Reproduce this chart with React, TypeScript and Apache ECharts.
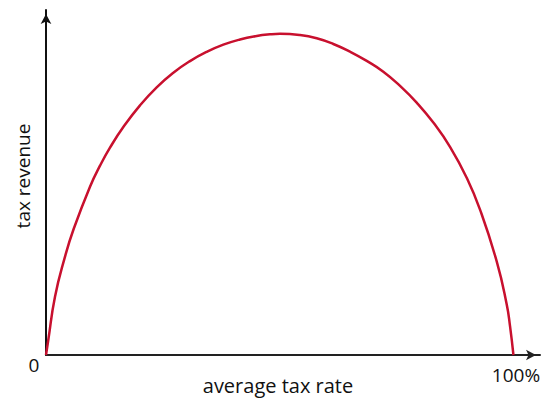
import React, { useEffect, useRef } from "react";
import * as echarts from "echarts";

// Laffer curve: tax rate (%) vs tax revenue (relative, peak = 100)
const taxRate = [0, 0.49, 1.93, 4.08, 5.86, 9.44, 11.59, 13.73, 16.59, 20.17, 23.75, 27.32, 30.9, 34.48, 38.05, 41.63, 45.21, 48.07, 50.21, 54.5, 58.09, 61.65, 65.24, 68.82, 72.38, 75.97, 79.54, 83.11, 86.69, 90.27, 93.13, 96.71, 98.86, 99.57, 100.3];
const taxRevenue = [0, 4.67, 18.17, 30.63, 38.95, 52.45, 58.99, 64.6, 71.02, 77.78, 83.39, 87.94, 91.58, 94.45, 96.69, 98.31, 99.4, 99.93, 100.1, 99.71, 98.69, 96.91, 94.51, 91.64, 88.28, 83.85, 78.65, 72.42, 64.88, 55.25, 45.31, 29.17, 15.77, 9.0, 0];
const xTickLabels = ["0", "100%"];
const xAxisTitle = "average tax rate";
const yAxisTitle = "tax revenue";

export default function App() {
  const ref = useRef<HTMLDivElement>(null);
  useEffect(() => {
    if (!ref.current) return;
    const chart = echarts.init(ref.current, null, { renderer: "svg" });
    const font = "'Open Sans', 'DejaVu Sans', sans-serif";
    chart.setOption({
      animation: false,
      backgroundColor: "#fff",
      grid: { left: 46, right: 1, top: 10, bottom: 43 },
      xAxis: {
        type: "value",
        min: 0,
        max: 106,
        axisLine: {
          show: true,
          lineStyle: { color: "#222", width: 2 },
          symbol: ["none", "arrow"],
          symbolSize: [8, 10],
          symbolOffset: [0, -4],
        },
        axisTick: { show: false },
        axisLabel: { show: false },
        splitLine: { show: false },
      },
      yAxis: {
        type: "value",
        min: 0,
        max: 107.5,
        axisLine: {
          show: true,
          lineStyle: { color: "#111", width: 2 },
          symbol: ["none", "arrow"],
          symbolSize: [8, 10],
          symbolOffset: [0, -4],
        },
        axisTick: { show: false },
        axisLabel: { show: false },
        splitLine: { show: false },
      },
      series: [
        {
          type: "line",
          data: taxRate.map((x, i) => [x, taxRevenue[i]]),
          smooth: 0.5,
          showSymbol: false,
          lineStyle: { color: "#c8102e", width: 2.5 },
          z: 1,
        },
      ],
      graphic: [
        {
          type: "text",
          x: 34,
          y: 365,
          style: { text: xTickLabels[0], font: `19px ${font}`, fill: "#111", align: "center", verticalAlign: "middle" },
        },
        {
          type: "text",
          x: 516,
          y: 374.5,
          style: { text: xTickLabels[1], font: `19px ${font}`, fill: "#111", align: "center", verticalAlign: "middle" },
        },
        {
          type: "text",
          x: 278,
          y: 385,
          style: { text: xAxisTitle, font: `20px ${font}`, fill: "#111", align: "center", verticalAlign: "middle" },
        },
        {
          type: "text",
          x: 23,
          y: 176,
          rotation: Math.PI / 2,
          style: { text: yAxisTitle, font: `19px ${font}`, fill: "#111", align: "center", verticalAlign: "middle" },
        },
      ],
    });
    return () => chart.dispose();
  }, []);
  return (
    <div
      ref={ref}
      style={{ position: "fixed", left: 0, top: 0, width: 541, height: 398 }}
    />
  );
}
